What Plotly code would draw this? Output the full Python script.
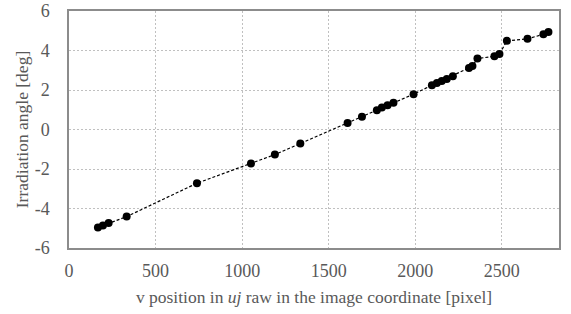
import plotly.graph_objects as go

v_position = [167, 196, 229, 333, 739, 1051, 1189, 1336, 1609, 1692, 1778, 1807, 1840, 1874,
              1990, 2096, 2125, 2153, 2182, 2217, 2310, 2330, 2359, 2457, 2486, 2529, 2648, 2740, 2769]
angle_deg = [-4.96, -4.86, -4.74, -4.41, -2.72, -1.72, -1.27, -0.71, 0.33, 0.64, 0.98, 1.11, 1.23, 1.35,
             1.79, 2.24, 2.36, 2.46, 2.56, 2.70, 3.12, 3.22, 3.59, 3.71, 3.82, 4.49, 4.59, 4.82, 4.94]
x_ticks = [0, 500, 1000, 1500, 2000, 2500]
y_ticks = [-6, -4, -2, 0, 2, 4, 6]
y_tick_labels = ["-6", "-4", "-2", "0", "2", "4", "6"]

fig = go.Figure()
fig.add_trace(go.Scatter(
    x=v_position, y=angle_deg, mode="lines+markers",
    line=dict(color="black", width=1.2, dash="3px,2px"),
    marker=dict(color="black", size=8),
    showlegend=False,
))

font = dict(family="Liberation Serif, Times New Roman, serif", size=18, color="#595959")
title_font = dict(family="Liberation Serif, Times New Roman, serif", size=17.5, color="#595959")
axis_common = dict(
    showline=True, linecolor="#8c8c8c", linewidth=1.5, mirror=True,
    showgrid=True, gridcolor="#c0c0c0", griddash="2px,2px", gridwidth=1,
    zeroline=False, ticks="", tickfont=font, automargin=False,
)
fig.update_layout(
    width=571, height=314,
    margin=dict(l=69, r=12, t=11, b=66),
    plot_bgcolor="white", paper_bgcolor="white",
    font=font,
    xaxis=dict(range=[0, 2830], tickvals=x_ticks, title=dict(
        text="v position in <i>uj</i> raw in the image coordinate [pixel]", font=title_font, standoff=10),
        ticklabelstandoff=6, **axis_common),
    yaxis=dict(range=[-6, 6], tickvals=y_ticks, ticktext=y_tick_labels, title=dict(
        text="Irradiation angle [deg]", font=title_font, standoff=2),
        ticklabelstandoff=14, **axis_common),
)
fig.write_html("out.html", config={"displayModeBar": False},
               post_script="document.body.style.margin='0';")
